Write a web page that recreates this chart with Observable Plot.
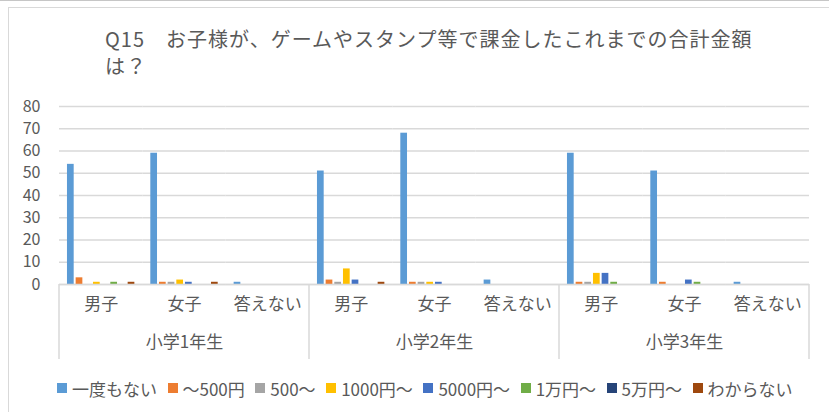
<!DOCTYPE html>
<html><head><meta charset="utf-8">
<script src="https://cdn.jsdelivr.net/npm/d3@7"></script>
<script src="https://cdn.jsdelivr.net/npm/@observablehq/plot@0.6"></script>
<style>
body{margin:0;background:#fff;font-family:"Noto Sans CJK JP","Noto Sans",sans-serif;color:#595959}
#wrap{position:relative;width:829px;height:412px;overflow:hidden;background:#fff}
#title{position:absolute;left:105px;top:25px;font-size:20px;line-height:27px;letter-spacing:1px;color:#595959;white-space:nowrap}
#chart{position:absolute;left:0;top:90px}
#legend{position:absolute;left:57px;top:376px;height:24px;display:flex;align-items:center;font-size:17px;white-space:nowrap;color:#595959}
.item{display:flex;align-items:center;margin-right:10.5px}
.sw{width:10px;height:10px;margin-right:5px}
.bl{position:absolute;background:#d9d9d9}
</style></head>
<body>
<div id="wrap">
  <div class="bl" style="left:0;top:0;width:829px;height:1px;background:#c6c6c6"></div>
  <div class="bl" style="left:8px;top:7px;width:821px;height:1px"></div>
  <div class="bl" style="left:8px;top:7px;width:1px;height:405px"></div>
  <div id="title"><div>Q15　お子様が、ゲームやスタンプ等で課金したこれまでの合計金額</div><div>は？</div></div>
  <div id="chart"></div>
  <div id="legend"></div>
</div>
<script>
// ---- data ----
const grades = ["小学1年生", "小学2年生", "小学3年生"];
const genders = ["男子", "女子", "答えない"];
const series = ["一度もない", "～500円", "500～", "1000円～", "5000円～", "1万円～", "5万円～", "わからない"];
const colors = ["#5B9BD5", "#ED7D31", "#A5A5A5", "#FFC000", "#4472C4", "#70AD47", "#264478", "#9E480E"];
const yTicks = [0, 10, 20, 30, 40, 50, 60, 70, 80];
// values in order: 1年(男子,女子,答えない), 2年(...), 3年(...)
const neverVals   = [54, 59, 1, 51, 68, 2, 59, 51, 1];
const upTo500     = [3, 1, 0, 2, 1, 0, 1, 1, 0];
const from500     = [0, 1, 0, 1, 1, 0, 1, 0, 0];
const from1000    = [1, 2, 0, 7, 1, 0, 5, 0, 0];
const from5000    = [0, 1, 0, 2, 1, 0, 5, 2, 0];
const from10000   = [1, 0, 0, 0, 0, 0, 1, 1, 0];
const from50000   = [0, 0, 0, 0, 0, 0, 0, 0, 0];
const unknownVals = [1, 1, 0, 1, 0, 0, 0, 0, 0];
const seriesValues = [neverVals, upTo500, from500, from1000, from5000, from10000, from50000, unknownVals];

// ---- build table ----
const cats = [];
grades.forEach(g => genders.forEach(s => cats.push({key: g + "|" + s, grade: g, gender: s})));
const keys = cats.map(c => c.key);
const rows = [];
cats.forEach((c, i) => series.forEach((s, j) => rows.push({key: c.key, series: s, value: seriesValues[j][i]})));
const groupRows = grades.map(g => ({key: g + "|" + genders[1], grade: g}));

const font = '"Noto Sans CJK JP","Noto Sans",sans-serif';
const H = 275, MT = 16, MB = 81, ML = 59, MR = 20;
const plot = Plot.plot({
  width: 829, height: H,
  marginTop: MT, marginBottom: MB, marginLeft: ML, marginRight: MR,
  style: {fontFamily: font, color: "#595959", background: "transparent", overflow: "visible"},
  fx: {domain: keys, padding: 0, axis: null, round: false},
  x: {domain: series, paddingInner: 0.226, paddingOuter: 0.92, round: false, axis: null},
  y: {domain: [0, 80], axis: null, label: null},
  color: {domain: series, range: colors},
  marks: [
    Plot.gridY(yTicks, {stroke: "#d9d9d9", strokeOpacity: 1, strokeWidth: 1.5}),
    Plot.axisY(yTicks, {tickSize: 0, tickPadding: 19, fontSize: 16, fill: "#595959", tickFormat: d => d, label: null}),
    Plot.barY(rows.filter(d => d.value > 0), {fx: "key", x: "series", y: "value", fill: "series"}),
    Plot.ruleY([0], {stroke: "#d9d9d9", strokeWidth: 1.5}),
    Plot.text(cats, {fx: "key", text: "gender", frameAnchor: "bottom", dy: 25, fontSize: 17, fill: "#595959"}),
    Plot.text(groupRows, {fx: "key", text: "grade", frameAnchor: "bottom", dy: 63, fontSize: 17, fill: "#595959"})
  ]
});
document.getElementById("chart").appendChild(plot);

// group separators on the category axis, positioned via the fx scale
try {
  const fx = plot.scale("fx");
  const y = plot.scale("y");
  const y0 = y.apply(0);
  const xs = [keys[0], keys[3], keys[6]].map(k => fx.apply(k));
  xs.push(fx.apply(keys[keys.length - 1]) + fx.bandwidth);
  d3.select(plot).append("g").selectAll("line").data(xs).join("line")
    .attr("x1", d => d).attr("x2", d => d)
    .attr("y1", y0).attr("y2", y0 + 75)
    .attr("stroke", "#d9d9d9").attr("stroke-width", 1.5);
} catch (e) { console.error(e); }

// legend
const lg = d3.select("#legend");
series.forEach((s, i) => {
  const it = lg.append("div").attr("class", "item");
  it.append("div").attr("class", "sw").style("background", colors[i]);
  it.append("span").text(s);
});
</script>
</body></html>
